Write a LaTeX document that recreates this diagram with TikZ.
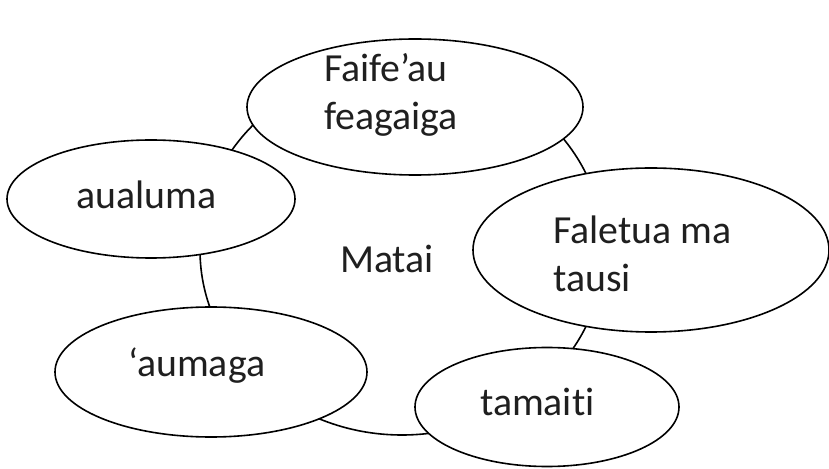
\documentclass[tikz,border=0pt]{standalone}
\usepackage{fontspec}
\setmainfont[Ligatures=NoCommon]{Carlito}
\usepackage{tikz}
\usetikzlibrary{shapes.geometric}

\tikzset{
  bubble/.style={ellipse, draw, fill=white, line width=1.6bp, inner sep=0pt, outer sep=0pt},
  word/.style={anchor=base west, align=left, inner sep=0pt, font=\fontsize{39.8bp}{48.5bp}\selectfont, text=black!88}
}

\begin{document}
\begin{tikzpicture}[x=1bp, y=-1bp]
    \useasboundingbox (0,0) rectangle (829,469);

    % the large ring behind everything
    \node[bubble, minimum width=404bp, minimum height=370bp] (ring) at (402,250) {};
    \node[word] (matai) at (340,273) {Matai};

    % bubbles round the ring (two-line texts sit on their last baseline)
    \node[bubble, minimum width=336bp, minimum height=136bp] (faifeau) at (415,107) {};
    \node[word] (faifeau-t) at (324,130) {Faife’au\\feagaiga};

    \node[bubble, minimum width=288bp, minimum height=118bp] (aualuma) at (151,199) {};
    \node[word] (aualuma-t) at (76,209) {aualuma};

    \node[bubble, minimum width=356bp, minimum height=164bp] (faletua) at (651,250) {};
    \node[word] (faletua-t) at (553,292) {Faletua ma\\tausi};

    \node[bubble, minimum width=312bp, minimum height=130bp] (aumaga) at (211,372) {};
    \node[word] (aumaga-t) at (128,377) {‘aumaga};

    \node[bubble, minimum width=264bp, minimum height=119bp] (tamaiti) at (547,407) {};
    \node[word] (tamaiti-t) at (480,415) {tamaiti};
\end{tikzpicture}
\end{document}
